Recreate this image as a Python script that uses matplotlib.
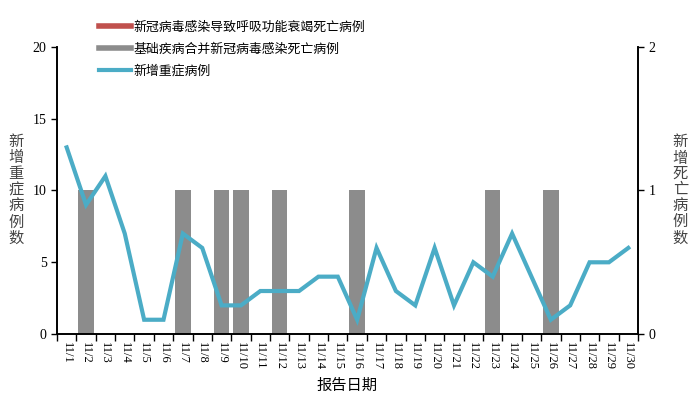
import numpy as np
import matplotlib
matplotlib.use("Agg")
from matplotlib import pyplot as plt
from matplotlib.lines import Line2D
from matplotlib.ticker import MultipleLocator, FixedLocator

plt.rcParams['font.family'] = ['Liberation Serif', 'Noto Sans CJK SC', 'DejaVu Sans']

dates = ["11/%d" % d for d in range(1, 31)]
severe = [13, 9, 11, 7, 1, 1, 7, 6, 2, 2, 3, 3, 3, 4, 4,
          1, 6, 3, 2, 6, 2, 5, 4, 7, 4, 1, 2, 5, 5, 6]
death_covid = [0] * 30
death_basic = [0, 1, 0, 0, 0, 0, 1, 0, 1, 1, 0, 1, 0, 0, 0,
               1, 0, 0, 0, 0, 0, 0, 1, 0, 0, 1, 0, 0, 0, 0]

label_red = "新冠病毒感染导致呼吸功能衰竭死亡病例"
label_grey = "基础疾病合并新冠病毒感染死亡病例"
label_line = "新增重症病例"

c_red = "#C0504D"
c_grey = "#8C8C8C"
c_line = "#4BACC6"

fig = plt.figure(figsize=(7, 4.04), dpi=100)
ax = fig.add_axes([0.0814, 0.173, 0.83, 0.711])
ax2 = ax.twinx()

x = np.arange(len(dates))
ax2.bar(x, death_covid, width=0.8, color=c_red, zorder=1)
ax2.bar(x, death_basic, bottom=death_covid, width=0.8, color=c_grey, zorder=1)
ax.plot(x, severe, color=c_line, lw=3, zorder=3, solid_joinstyle='miter')
ax.set_zorder(ax2.get_zorder() + 1)
ax.patch.set_visible(False)

ax.set_xlim(-0.5, len(dates) - 0.5)
ax.set_ylim(0, 20)
ax2.set_ylim(0, 2)
ax.yaxis.set_major_locator(MultipleLocator(5))
ax2.yaxis.set_major_locator(MultipleLocator(1))

ax.set_xticks(x)
ax.set_xticklabels(dates, rotation=270, fontsize=9)
ax.xaxis.set_minor_locator(FixedLocator(np.arange(-0.5, len(dates), 1)))
ax.tick_params(axis='x', which='major', length=0, pad=6)
ax.tick_params(axis='x', which='minor', length=5, direction='out', width=1)
ax.tick_params(axis='y', length=4, width=1, labelsize=10)
ax2.tick_params(axis='y', length=4, width=1, labelsize=10)

for a in (ax, ax2):
    a.spines['top'].set_visible(False)
    for s in a.spines.values():
        s.set_linewidth(1.2)

ax.set_ylabel("新\n增\n重\n症\n病\n例\n数", rotation=0, fontsize=11,
              labelpad=12, va='center', linespacing=1.2, color="#444444")
ax2.set_ylabel("新\n增\n死\n亡\n病\n例\n数", rotation=0, fontsize=11,
               labelpad=18, va='center', linespacing=1.2, color="#444444")
ax.set_xlabel("报告日期", fontsize=11, labelpad=6)

handles = [Line2D([], [], color=c_red, lw=4),
           Line2D([], [], color=c_grey, lw=4),
           Line2D([], [], color=c_line, lw=3)]
fig.legend(handles, [label_red, label_grey, label_line], loc='upper left',
           bbox_to_anchor=(0.125, 0.978), frameon=False,
           handlelength=2.5, handletextpad=0.15, labelspacing=0.7,
           prop={'family': ['Noto Sans CJK SC', 'DejaVu Sans'], 'size': 9.3})

fig.savefig("out.png", dpi=100)
